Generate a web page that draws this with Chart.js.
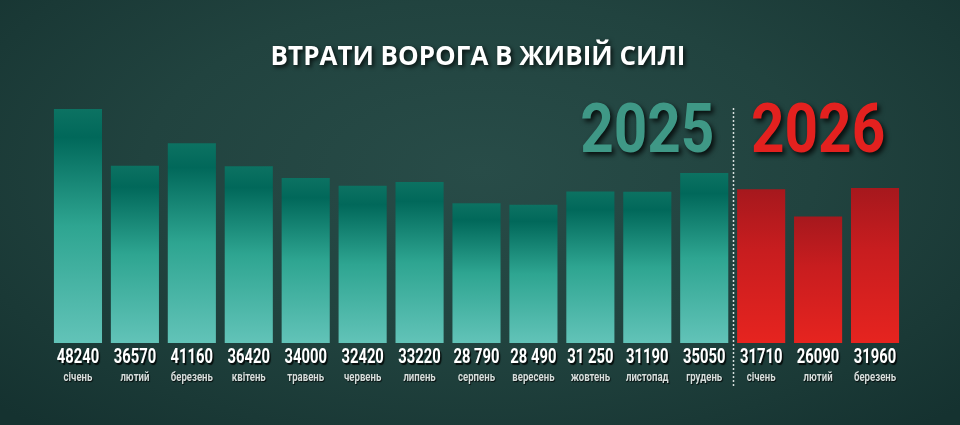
<!DOCTYPE html>
<html>
<head>
<meta charset="utf-8">
<script src="https://cdn.jsdelivr.net/npm/chart.js@4.4.1/dist/chart.umd.min.js"></script>
<style>
  html, body { margin: 0; padding: 0; }
  body {
    width: 960px; height: 425px; overflow: hidden;
    background: radial-gradient(ellipse 70% 80% at 50% 40%, #284c48 0%, #21433f 50%, #1a3936 80%, #153230 100%);
  }
  #wrap { position: relative; width: 960px; height: 425px; }
</style>
</head>
<body>
<div id="wrap"><canvas id="chart"></canvas></div>
<script>
const months = ['січень', 'лютий', 'березень', 'квітень', 'травень', 'червень', 'липень',
  'серпень', 'вересень', 'жовтень', 'листопад', 'грудень', 'січень', 'лютий', 'березень'];
const losses = [48240, 36570, 41160, 36420, 34000, 32420, 33220, 28790, 28490, 31250, 31190, 35050,
  31710, 26090, 31960];
const valueLabels = ['48240', '36570', '41160', '36420', '34000', '32420', '33220', '28 790', '28 490',
  '31 250', '31190', '35050', '31710', '26090', '31960'];
const years = ['2025', '2026'];
const monthsIn2025 = 12;

const title = 'ВТРАТИ ВОРОГА В ЖИВІЙ СИЛІ';

function barGradient(ctx) {
    const chart = ctx.chart;
    if (!chart.chartArea || !chart.scales.y) return '#2aa692';
    const y = chart.scales.y;
    const top = y.getPixelForValue(losses[ctx.dataIndex]);
    const bottom = y.getPixelForValue(0);
    const g = chart.ctx.createLinearGradient(0, top, 0, bottom);
    if (ctx.dataIndex < monthsIn2025) {
        g.addColorStop(0, '#0c7262');
        g.addColorStop(0.12, '#01685a');
        g.addColorStop(0.5, '#2ea591');
        g.addColorStop(1, '#62c3b8');
    } else {
        g.addColorStop(0, '#a6181d');
        g.addColorStop(0.4, '#c81d1f');
        g.addColorStop(1, '#e6241f');
    }
    return g;
}

// text squeezed horizontally, to look like a condensed face
function squeezedText(c, text, x, y, font, sx, color, blur, off) {
    c.save();
    c.font = font;
    c.translate(x, y);
    c.scale(sx, 1);
    c.shadowColor = 'rgba(0,0,0,0.8)';
    c.shadowBlur = blur;
    c.shadowOffsetX = off * sx;
    c.shadowOffsetY = off;
    c.fillStyle = color;
    c.fillText(text, 0, 0);
    c.restore();
}

const decor = {
    id: 'decor',
    afterDatasetsDraw(chart) {
        const c = chart.ctx;
        const xs = chart.scales.x;
        c.save();
        c.textAlign = 'center';
        c.textBaseline = 'middle';

        // title
        squeezedText(c, title, 478, 58, 'bold 26px "Open Sans", sans-serif', 1, '#ffffff', 4, 2);

        // values and months under the bars
        for (let i = 0; i < losses.length; i++) {
            const x = xs.getPixelForValue(i);
            squeezedText(c, valueLabels[i], x, 358, 'bold 20px Roboto, sans-serif', 0.74, '#ffffff', 1, 2);
            squeezedText(c, months[i], x, 378, 'bold 12px Roboto, sans-serif', 0.8, '#d6dedc', 1, 1);
        }

        // year labels
        squeezedText(c, years[0], xs.getPixelForValue(10), 135, 'bold 68px Roboto, sans-serif', 0.86, '#3f9886', 5, 3);
        squeezedText(c, years[1], xs.getPixelForValue(13), 135, 'bold 68px Roboto, sans-serif', 0.86, '#e3211f', 5, 3);

        // dotted separator between the years
        const sx = Math.round((xs.getPixelForValue(monthsIn2025 - 1) + xs.getPixelForValue(monthsIn2025)) / 2) + 0.5;
        c.strokeStyle = 'rgba(235,240,238,0.9)';
        c.lineWidth = 1.5;
        c.setLineDash([2, 2]);
        c.beginPath();
        c.moveTo(sx, 108);
        c.lineTo(sx, 386);
        c.stroke();
        c.restore();
    }
};

new Chart(document.getElementById('chart'), {
    type: 'bar',
    data: {
        labels: months,
        datasets: [{
            data: losses,
            backgroundColor: barGradient,
            borderWidth: 0,
            barPercentage: 0.845,
            categoryPercentage: 1
        }]
    },
    options: {
        responsive: true,
        maintainAspectRatio: false,
        animation: false,
        layout: { padding: { left: 49.5, right: 56.5, top: 52, bottom: 82 } },
        scales: {
            x: { display: false },
            y: { display: false, min: 0, max: 60000 }
        },
        plugins: {
            legend: { display: false },
            tooltip: { enabled: false }
        }
    },
    plugins: [decor]
});
</script>
</body>
</html>
